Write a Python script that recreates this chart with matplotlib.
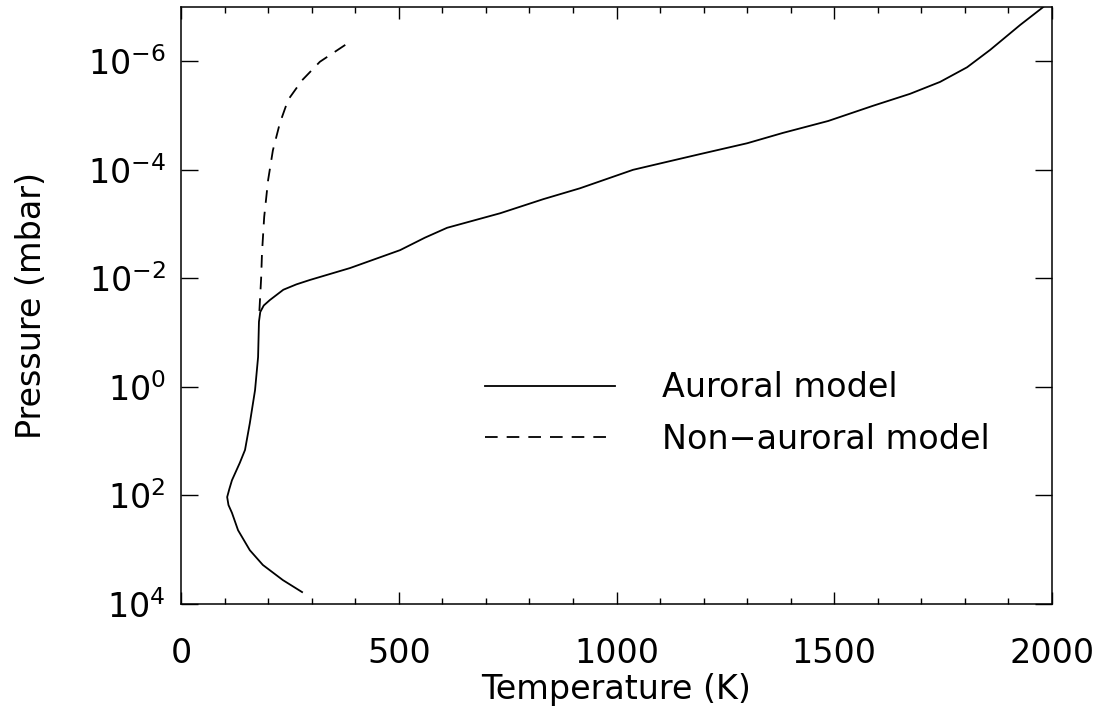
import math
import matplotlib
matplotlib.use("Agg")
import matplotlib.pyplot as plt
from matplotlib.ticker import FixedLocator, MultipleLocator, FuncFormatter

# Auroral model temperature profile (K) and pressure (mbar)
auroral_temp = [278, 234, 188, 158, 131, 117, 109, 106, 111, 117, 135, 147,
                158, 170, 177, 179, 182, 190, 204, 235, 265, 296, 388, 503,
                560, 611, 733, 832, 916, 1038, 1107, 1192, 1300, 1382, 1486,
                1589, 1674, 1743, 1805, 1858, 1927, 1980]
auroral_pres = [6.03e3, 3.63e3, 1.91e3, 1.02e3, 4.37e2, 2.09e2, 1.5e2, 1.07e2,
                76.0, 52.5, 25.1, 14.5, 4.68, 1.15, 0.282, 0.063, 0.0417,
                0.0316, 0.0251, 0.0162, 0.0129, 0.0107, 6.46e-3, 3.02e-3,
                1.78e-3, 1.17e-3, 6.31e-4, 3.47e-4, 2.19e-4, 1.0e-4, 7.41e-5,
                5.13e-5, 3.24e-5, 2.09e-5, 1.26e-5, 6.61e-6, 3.98e-6, 2.40e-6,
                1.29e-6, 6.17e-7, 2.14e-7, 1.0e-7]

# Non-auroral model
nonaur_temp = [180, 184, 186, 191, 200, 211, 227, 246, 278, 319, 388]
nonaur_pres = [0.0398, 0.01, 3.39e-3, 7.41e-4, 1.55e-4, 4.37e-5, 1.38e-5,
               5.13e-6, 2.24e-6, 1.02e-6, 4.37e-7]

ytick_vals = [1e-6, 1e-4, 1e-2, 1e0, 1e2, 1e4]

fig = plt.figure(figsize=(11.08, 7.12), dpi=100)
ax = fig.add_axes([181 / 1108, 1 - 604 / 712, 871 / 1108, 597 / 712])

ax.plot(auroral_temp, auroral_pres, color="black", lw=1.3,
        label="Auroral model")
ax.plot(nonaur_temp, nonaur_pres, color="black", lw=1.3, dashes=(7, 5),
        label="Non\u2212auroral model")

ax.set_yscale("log")
ax.set_xlim(0, 2000)
ax.set_ylim(1e4, 1e-7)

ax.xaxis.set_major_locator(MultipleLocator(500))
ax.xaxis.set_minor_locator(MultipleLocator(100))
ax.yaxis.set_major_locator(FixedLocator(ytick_vals))
ax.yaxis.set_minor_locator(FixedLocator([]))
ax.yaxis.set_major_formatter(
    FuncFormatter(lambda v, p: r"$10^{%d}$" % round(math.log10(v))))

ax.tick_params(axis="x", which="major", direction="in", length=8.5, width=1,
               top=True, labelsize=24, pad=24)
ax.tick_params(axis="x", which="minor", direction="in", length=4.3, width=1,
               top=True)
ax.tick_params(axis="y", which="major", direction="in", length=12, width=1,
               right=True, labelsize=24, pad=11)

for s in ax.spines.values():
    s.set_linewidth(1.1)

ax.set_xlabel("Temperature (K)", fontsize=24)
ax.xaxis.set_label_coords(0.5, -0.115)
ax.set_ylabel("Pressure (mbar)", fontsize=24)
ax.yaxis.set_label_coords(-0.153, 0.5)

ax.legend(loc="center left", bbox_to_anchor=(0.349, 0.319), frameon=False,
          fontsize=24, handlelength=3.9, handletextpad=1.4, labelspacing=0.55,
          borderpad=0, borderaxespad=0)

fig.savefig("out.png", dpi=100)
